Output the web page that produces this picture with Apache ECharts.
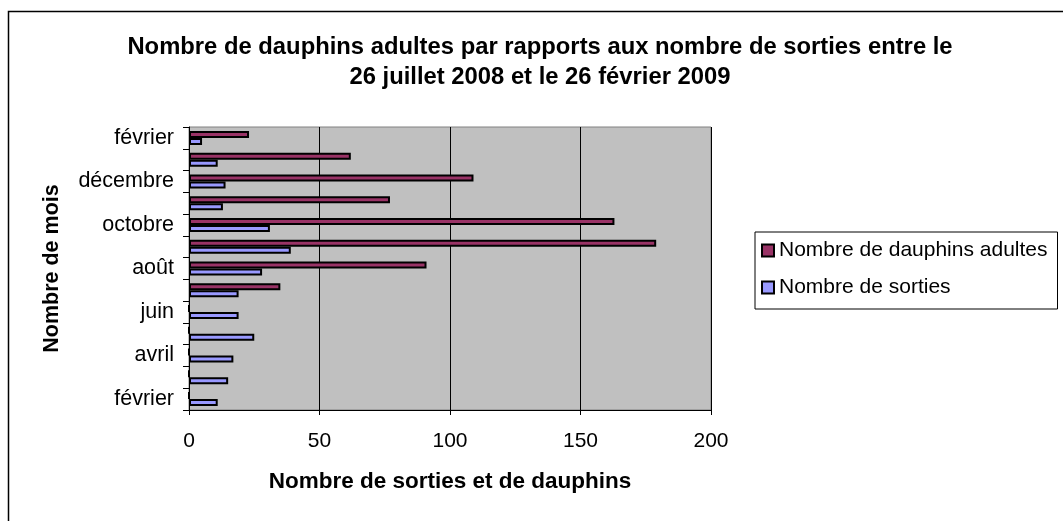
<!DOCTYPE html>
<html>
<head>
<meta charset="utf-8">
<script src="https://cdn.jsdelivr.net/npm/echarts@6/dist/echarts.min.js"></script>
<style>
  html, body { margin: 0; padding: 0; background: #fff; }
  #chart { width: 1063px; height: 521px; }
</style>
</head>
<body>
<div id="chart"></div>
<script>
// months from bottom (Feb 2008) to top (Feb 2009)
const months = ['février', 'mars', 'avril', 'mai', 'juin', 'juillet', 'août',
  'septembre', 'octobre', 'novembre', 'décembre', 'janvier', 'février']
const dauphins = [0, 0, 0, 0, 0, 35, 91, 179, 163, 77, 109, 62, 23]
const sorties = [11, 15, 17, 25, 19, 19, 28, 39, 31, 13, 14, 11, 5]
const xTicks = [0, 50, 100, 150, 200]

const FONT = '"Liberation Sans", Arial, sans-serif'

const chart = echarts.init(document.getElementById('chart'), null, { renderer: 'canvas' })

chart.setOption({
  backgroundColor: '#fff',
  animation: false,
  graphic: [{
    type: 'rect',
    shape: { x: 8.5, y: 11.5, width: 1100, height: 600 },
    style: { fill: 'none', stroke: '#000', lineWidth: 1.5 },
    silent: true,
  }],
  title: {
    text: 'Nombre de dauphins adultes par rapports aux nombre de sorties entre le\n26 juillet 2008 et le 26 février 2009',
    left: 540,
    top: 27,
    textAlign: 'center',
    padding: [5, 0, 5, 0],
    textStyle: {
      fontFamily: FONT,
      fontWeight: 'bold',
      fontSize: 23.8,
      lineHeight: 30,
      color: '#000',
    },
  },
  legend: {
    orient: 'vertical',
    left: 755,
    top: 232,
    padding: [8, 10, 11, 6],
    itemGap: 16,
    itemWidth: 12,
    itemHeight: 12,
    icon: 'rect',
    borderColor: '#000',
    borderWidth: 1,
    textStyle: { fontFamily: FONT, fontSize: 21, color: '#000' },
    data: ['Nombre de dauphins adultes', 'Nombre de sorties'],
  },
  grid: {
    left: 189,
    top: 127,
    width: 522,
    height: 283,
    show: true,
    backgroundColor: '#C0C0C0',
    borderColor: '#808080',
    borderWidth: 1,
  },
  xAxis: {
    type: 'value',
    min: xTicks[0],
    max: xTicks[xTicks.length - 1],
    interval: 50,
    name: 'Nombre de sorties et de dauphins',
    nameLocation: 'middle',
    nameGap: 60,
    nameTextStyle: { fontFamily: FONT, fontWeight: 'bold', fontSize: 22.5, color: '#000' },
    axisLine: { show: true, lineStyle: { color: '#000', width: 1 } },
    axisTick: { show: true, length: 5, lineStyle: { color: '#000' } },
    axisLabel: { margin: 21, fontFamily: FONT, fontSize: 21, color: '#000' },
    splitLine: { show: true, lineStyle: { color: '#000', width: 1 } },
  },
  yAxis: {
    type: 'category',
    data: months,
    name: 'Nombre de mois',
    nameLocation: 'middle',
    nameGap: 126,
    nameRotate: 90,
    nameTextStyle: { fontFamily: FONT, fontWeight: 'bold', fontSize: 21.5, color: '#000' },
    axisLine: { show: true, lineStyle: { color: '#000', width: 1 } },
    axisTick: { show: true, length: 6, interval: 0, alignWithLabel: false, lineStyle: { color: '#000' } },
    axisLabel: { interval: 1, margin: 15, fontFamily: FONT, fontSize: 21.5, color: '#000' },
    splitLine: { show: false },
  },
  series: [
    {
      name: 'Nombre de dauphins adultes',
      type: 'bar',
      data: dauphins,
      barWidth: 7,
      barGap: '0%',
      itemStyle: { color: '#993366', borderColor: '#000', borderWidth: 2 },
    },
    {
      name: 'Nombre de sorties',
      type: 'bar',
      data: sorties,
      barWidth: 7,
      barGap: '0%',
      itemStyle: { color: '#9999FF', borderColor: '#000', borderWidth: 2 },
    },
  ],
})
</script>
</body>
</html>
